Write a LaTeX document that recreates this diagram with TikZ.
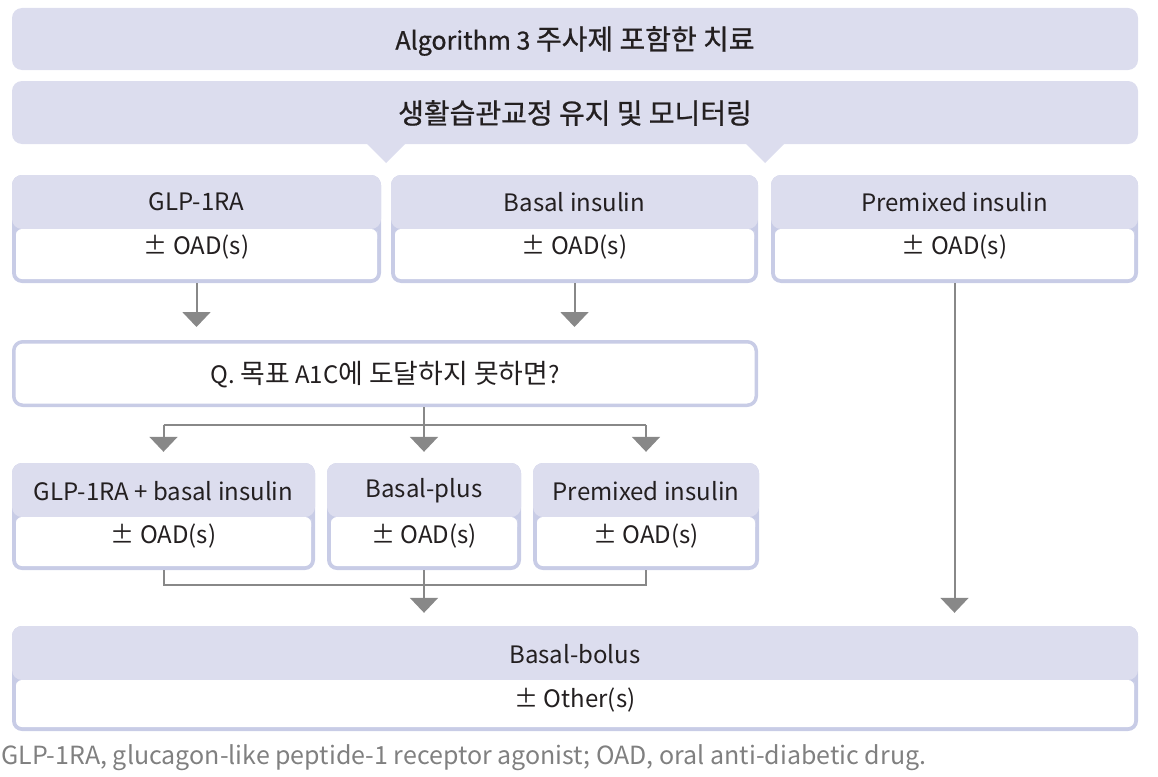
\documentclass[tikz,border=0pt]{standalone}
\usepackage{fontspec}
\setmainfont{Noto Sans CJK KR}
\newfontfamily\hkfont{Noto Sans CJK KR}[Scale=1.12]
\newfontfamily\hkmedfont{Noto Sans CJK KR}[Scale=1.12,FakeBold=0.8]
\newfontfamily\medfont{Noto Sans CJK KR}[FakeBold=0.8]
\newcommand\hk[1]{{\hkfont #1}}
\newcommand\hkm[1]{{\hkmedfont #1}}
\usetikzlibrary{arrows.meta,calc}
\definecolor{hdr}{RGB}{220,221,238}
\definecolor{bord}{RGB}{200,204,230}
\definecolor{agray}{RGB}{136,136,136}
\definecolor{txt}{RGB}{35,31,32}
\definecolor{foot}{RGB}{128,128,128}
\begin{document}
\begin{tikzpicture}[x=1pt,y=-1pt,
  box/.style={rectangle,rounded corners=9pt,draw=bord,line width=3.5pt,fill=white,inner sep=0pt},
  hbox/.style={rectangle,rounded corners=10pt,fill=bord,inner sep=0pt,
    path picture={
      \fill[hdr] ([yshift=2pt]path picture bounding box.north west) rectangle ([yshift=-#1]path picture bounding box.north east);
      \fill[white,rounded corners=6pt] ([xshift=4pt,yshift=-#1]path picture bounding box.north west) rectangle ([shift={(-4pt,4pt)}]path picture bounding box.south east);
      \fill[white] ([xshift=4pt,yshift=-#1]path picture bounding box.north west) rectangle ([xshift=-4pt,yshift=-#1-12pt]path picture bounding box.north east);
    }},
  band/.style={rectangle,rounded corners=10pt,fill=hdr,inner sep=0pt},
  lbl/.style={font=\fontsize{24}{28}\selectfont,text=txt,inner sep=0pt},
  tlbl/.style={font=\fontsize{25}{29}\selectfont\medfont,text=txt,inner sep=0pt},
  flow/.style={draw=agray,line width=2pt},
  arr/.style={flow,-{Triangle[width=28pt,length=15pt]}}]
\useasboundingbox (0,0) rectangle (1158,776);
% top bands
\node[band,minimum width=1126pt,minimum height=62pt] (title) at (575,39) {};
\node[tlbl] (titletxt) at (575,41) {Algorithm 3 \hkm{주사제 포함한 치료}};
\node[band,minimum width=1126pt,minimum height=63pt] (life) at (575,112.5) {};
\fill[hdr] (366,143) -- (386,163) -- (406,143) -- cycle;
\fill[hdr] (745,143) -- (765,163) -- (785,143) -- cycle;
\node[tlbl] (lifetxt) at (575,113) {\hkm{생활습관교정 유지 및 모니터링}};
% row 1
\node[hbox=54pt,minimum width=369pt,minimum height=108pt] (glp) at (196.5,229) {};
\node[hbox=54pt,minimum width=367pt,minimum height=108pt] (basal) at (574.5,229) {};
\node[hbox=54pt,minimum width=367pt,minimum height=108pt] (premix) at (954.5,229) {};
\node[lbl] at (196.5,202) {GLP-1RA};
\node[lbl] at (196.5,247) {± OAD(s)};
\node[lbl] at (574.5,202) {Basal insulin};
\node[lbl] at (574.5,247) {± OAD(s)};
\node[lbl] at (954.5,202) {Premixed insulin};
\node[lbl] at (954.5,247) {± OAD(s)};
% question
\node[box,minimum width=742.5pt,minimum height=63.5pt] (q) at (385,373.5) {};
\node[lbl] (qtxt) at (385,375) {Q. \hk{목표} A1C\hk{에 도달하지 못하면}?};
% row 3
\node[hbox=54pt,minimum width=303pt,minimum height=107pt] (ra) at (163.5,516.5) {};
\node[hbox=54pt,minimum width=194pt,minimum height=107pt] (rb) at (424,516.5) {};
\node[hbox=54pt,minimum width=226pt,minimum height=107pt] (rc) at (646,516.5) {};
\node[lbl] at (163.5,491) {GLP-1RA + basal insulin};
\node[lbl] at (163.5,536) {± OAD(s)};
\node[lbl] at (424,491) {Basal-plus};
\node[lbl] at (424,536) {± OAD(s)};
\node[lbl] at (646,491) {Premixed insulin};
\node[lbl] at (646,536) {± OAD(s)};
% bottom
\node[hbox=54pt,minimum width=1126pt,minimum height=105pt] (bb) at (575,678.5) {};
\node[lbl] at (575,654) {Basal-bolus};
\node[lbl] at (575,700) {± Other(s)};
% footnote
\node[anchor=base west,text=foot,font=\fontsize{25}{29}\selectfont,inner sep=0pt] (fn) at (1,764) {GLP-1RA, glucagon-like peptide-1 receptor agonist; OAD, oral anti-diabetic drug.};
% connectors
\draw[arr] (glp.south) -- ([yshift=13pt]glp.south |- q.north);
\draw[arr] (basal.south) -- ([yshift=13pt]basal.south |- q.north);
\coordinate (qs) at (rb.north |- q.south);
\coordinate (qj) at ($(qs)+(0,18)$);
\draw[flow] (qs) -- (qj);
\draw[flow] (ra.north |- qj) -- (rc.north |- qj);
\draw[arr] (ra.north |- qj) -- ([yshift=11pt]ra.north);
\draw[arr] (qj) -- ([yshift=11pt]rb.north);
\draw[arr] (rc.north |- qj) -- ([yshift=11pt]rc.north);
\coordinate (bj) at ($(rb.south)+(0,15)$);
\draw[flow] (ra.south) -- (ra.south |- bj) -- (rc.south |- bj) -- (rc.south);
\draw[flow] (rb.south) -- (bj);
\draw[arr] (bj) -- ([yshift=13pt]rb.south |- bb.north);
\draw[arr] (premix.south) -- ([yshift=13pt]premix.south |- bb.north);
\end{tikzpicture}
\end{document}
